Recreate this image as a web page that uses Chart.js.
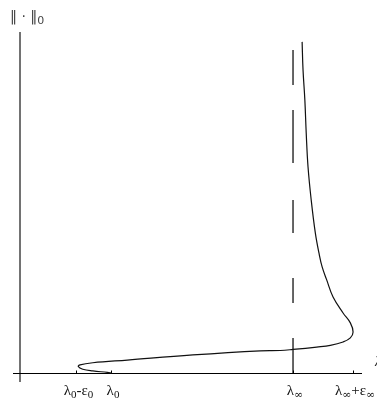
<!DOCTYPE html>
<html>
<head>
<meta charset="utf-8">
<script src="https://cdn.jsdelivr.net/npm/chart.js@4/dist/chart.umd.min.js"></script>
<style>
  html, body { margin: 0; padding: 0; background: #fff; }
  #wrap { width: 377px; height: 402px; }
</style>
</head>
<body>
<div id="wrap"><canvas id="c" width="377" height="402"></canvas></div>
<script>
// Solution branch: spectral parameter lambda against the norm ||.||_0
const lambdaValues = [1.01, 0.96, 0.80, 0.69, 0.64, 0.66, 0.80, 1.18, 1.90, 2.64, 2.86, 3.00,
                      3.26, 3.41, 3.55, 3.63, 3.66, 3.63, 3.55, 3.44, 3.37, 3.32, 3.285, 3.245,
                      3.20, 3.165, 3.145, 3.13, 3.11, 3.10];
const normValues   = [0.00, 0.02, 0.06, 0.11, 0.19, 0.24, 0.30, 0.38, 0.53, 0.65, 0.66, 0.69,
                      0.76, 0.81, 0.91, 1.03, 1.20, 1.47, 1.76, 2.23, 2.73, 3.11, 3.52, 4.11,
                      5.07, 6.04, 7.04, 8.01, 8.89, 9.71];

// Vertical asymptote at lambda_inf
const asymptoteLambda = 3;
const asymptoteNorm = [0, 9.47];

// Marked points on the lambda axis
const tickValues = [0.62, 1, 3, 3.66];
const tickLabels = ['λ_0-ε_0', 'λ_0', 'λ_∞', 'λ_∞+ε_∞'];
const yAxisTitle = '‖ · ‖_0';
const xAxisTitle = 'λ';

const curve = lambdaValues.map((x, i) => ({ x, y: normValues[i] }));
const asymptote = asymptoteNorm.map(y => ({ x: asymptoteLambda, y }));

const FONT = '"Liberation Serif", "DejaVu Serif", serif';
const TITLE_FONT = '"DejaVu Sans", sans-serif';

// split "a_b" notation into [text, isSubscript] runs
function parseRich(s) {
  const runs = [];
  let buf = '';
  for (let i = 0; i < s.length; i++) {
    if (s[i] === '_') {
      if (buf) runs.push([buf, false]);
      buf = '';
      runs.push([s[i + 1], true]);
      i++;
    } else buf += s[i];
  }
  if (buf) runs.push([buf, false]);
  return runs;
}

function runFont(t, sub, size, family) {
  const px = sub ? Math.round(size * 0.75) : size;
  // the infinity sign reads better from DejaVu
  const fam = t === '∞' ? '"DejaVu Serif", serif' : family;
  return px + 'px ' + fam;
}

function drawRich(ctx, text, x, baseline, size, align, family) {
  const runs = parseRich(text);
  let w = 0;
  runs.forEach(([t, sub]) => {
    ctx.font = runFont(t, sub, size, family);
    w += ctx.measureText(t).width;
  });
  let cx = align === 'center' ? x - w / 2 : x;
  ctx.textAlign = 'left';
  ctx.textBaseline = 'alphabetic';
  runs.forEach(([t, sub]) => {
    ctx.font = runFont(t, sub, size, family);
    ctx.fillText(t, cx, baseline + (sub ? 3 : 0));
    cx += ctx.measureText(t).width;
  });
}

const axesPlugin = {
  id: 'crossAxes',
  beforeDatasetsDraw(chart) {
    const { ctx, chartArea: a, scales: { x, y } } = chart;
    const x0 = x.getPixelForValue(0);
    const y0 = Math.round(y.getPixelForValue(0)) + 0.5;
    ctx.save();
    // vertical axis
    ctx.strokeStyle = '#444';
    ctx.lineWidth = 1.5;
    ctx.beginPath();
    ctx.moveTo(x0, a.top);
    ctx.lineTo(x0, a.bottom);
    ctx.stroke();
    // horizontal axis
    ctx.strokeStyle = '#000';
    ctx.lineWidth = 1;
    ctx.beginPath();
    ctx.moveTo(a.left, y0);
    ctx.lineTo(a.right, y0);
    ctx.stroke();
    // small tick marks
    tickValues.forEach(v => {
      const px = Math.round(x.getPixelForValue(v)) + 0.5;
      ctx.beginPath();
      ctx.moveTo(px, y0);
      ctx.lineTo(px, y0 - 3);
      ctx.stroke();
    });
    ctx.restore();
  },
  afterDraw(chart) {
    const { ctx, scales: { x, y } } = chart;
    const y0 = y.getPixelForValue(0);
    ctx.save();
    ctx.fillStyle = '#111';
    tickValues.forEach((v, i) => {
      drawRich(ctx, tickLabels[i], x.getPixelForValue(v) + 2, y0 + 22, 15, 'center', FONT);
    });
    ctx.fillStyle = '#444';
    drawRich(ctx, yAxisTitle, 10, y.getPixelForValue(y.max) - 11, 14, 'left', TITLE_FONT);
    ctx.fillStyle = '#222';
    ctx.font = 'italic 14px ' + FONT;
    ctx.textAlign = 'left';
    ctx.fillText(xAxisTitle, x.getPixelForValue(x.max) + 13, y0 - 7);
    ctx.restore();
  }
};

new Chart(document.getElementById('c'), {
  type: 'scatter',
  data: {
    datasets: [
      {
        data: curve,
        showLine: true,
        borderColor: '#111',
        borderWidth: 1.2,
        pointRadius: 0,
        tension: 0.4,
        fill: false
      },
      {
        data: asymptote,
        showLine: true,
        borderColor: '#000',
        borderWidth: 1.2,
        borderDash: [35, 35, 25, 45, 33, 37, 53, 25, 35],
        pointRadius: 0,
        fill: false
      }
    ]
  },
  options: {
    responsive: false,
    animation: false,
    layout: { padding: { left: 13, right: 15, top: 32, bottom: 20 } },
    plugins: { legend: { display: false }, tooltip: { enabled: false } },
    scales: {
      x: { type: 'linear', display: false, min: -0.077, max: 3.758 },
      y: { type: 'linear', display: false, min: -0.264, max: 10 }
    }
  },
  plugins: [axesPlugin]
});
</script>
</body>
</html>
